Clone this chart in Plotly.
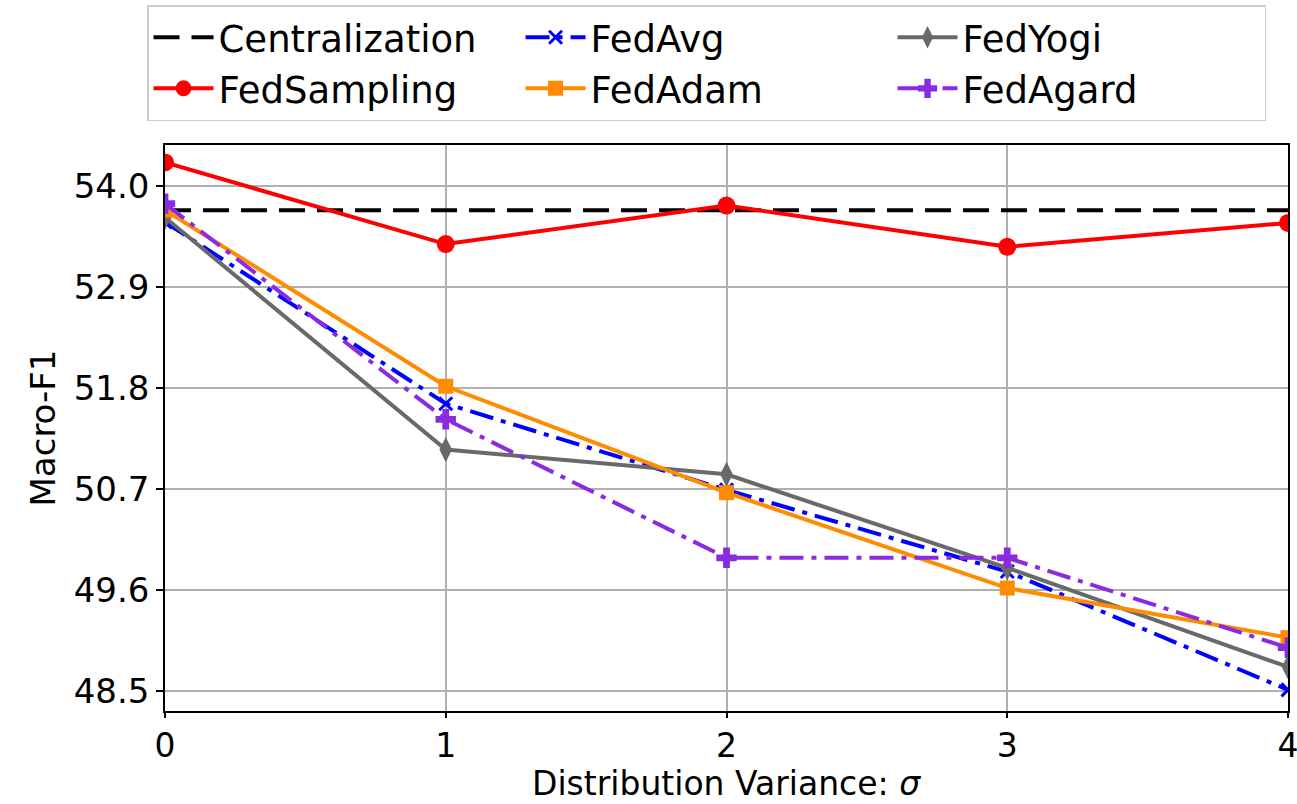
import plotly.graph_objects as go

x_vals = [0, 1, 2, 3, 4]
centralization = [53.74, 53.74, 53.74, 53.74, 53.74]
fedsampling = [54.26, 53.37, 53.79, 53.34, 53.60]
fedavg = [53.61, 51.63, 50.69, 49.80, 48.51]
fedadam = [53.74, 51.82, 50.66, 49.62, 49.08]
fedyogi = [53.66, 51.13, 50.86, 49.84, 48.76]
fedagard = [53.81, 51.46, 49.95, 49.95, 48.97]
y_ticks = [48.5, 49.6, 50.7, 51.8, 52.9, 54.0]
x_ticks = [0, 1, 2, 3, 4]

FONT = "DejaVu Sans"
FS = 34
LW = 4
dashdot = "24px,8px,5px,8px"

fig = go.Figure()
fig.add_trace(go.Scatter(x=x_vals, y=centralization, name="Centralization", mode="lines",
                         line=dict(color="black", width=LW, dash="26px,12px")))
fig.add_trace(go.Scatter(x=x_vals, y=fedavg, name="FedAvg", mode="lines+markers",
                         line=dict(color="blue", width=LW, dash=dashdot),
                         marker=dict(symbol="x-thin", size=13, line=dict(color="blue", width=3))))
fig.add_trace(go.Scatter(x=x_vals, y=fedyogi, name="FedYogi", mode="lines+markers",
                         line=dict(color="dimgray", width=LW),
                         marker=dict(symbol="diamond-tall", size=18, color="dimgray")))
fig.add_trace(go.Scatter(x=x_vals, y=fedsampling, name="FedSampling", mode="lines+markers",
                         line=dict(color="red", width=LW),
                         marker=dict(symbol="circle", size=18, color="red")))
fig.add_trace(go.Scatter(x=x_vals, y=fedadam, name="FedAdam", mode="lines+markers",
                         line=dict(color="darkorange", width=LW),
                         marker=dict(symbol="square", size=15, color="darkorange")))
fig.add_trace(go.Scatter(x=x_vals, y=fedagard, name="FedAgard", mode="lines+markers",
                         line=dict(color="blueviolet", width=LW, dash=dashdot),
                         marker=dict(symbol="cross", size=17, color="blueviolet")))

axis_common = dict(showline=True, linecolor="black", linewidth=1.5, mirror=True,
                   ticks="outside", tickwidth=1.5, tickcolor="black",
                   showgrid=True, gridcolor="#b0b0b0", gridwidth=1.5, zeroline=False,
                   automargin=False, ticklabeloverflow="allow")

fig.update_layout(
    width=1297, height=804,
    paper_bgcolor="white", plot_bgcolor="white",
    margin=dict(l=165, r=9, t=145, b=93, autoexpand=False),
    font=dict(family=FONT, color="black"),
    xaxis=dict(range=[0, 4], tickvals=x_ticks, ticktext=[str(v) for v in x_ticks],
               ticklen=5, tickfont=dict(family=FONT, size=33, color="black"),
               **axis_common),
    yaxis=dict(range=[48.28, 54.45], tickvals=y_ticks, ticktext=[f"{v:.1f}" for v in y_ticks],
               ticklen=7, tickfont=dict(family=FONT, size=FS, color="black"),
               title=dict(text="Macro-F1", font=dict(family=FONT, size=FS), standoff=8),
               **axis_common),
    legend=dict(orientation="h", x=-0.016, xanchor="left", y=1.247, yanchor="top",
                font=dict(family=FONT, size=37), entrywidth=297, entrywidthmode="pixels",
                bordercolor="#cccccc", borderwidth=1.5, bgcolor="white",
                itemwidth=60, tracegroupgap=0),
    showlegend=True,
    annotations=[dict(text="Distribution Variance: <i>σ</i>", xref="paper", yref="paper",
                      x=0.5, y=-0.1643, xanchor="center", yanchor="bottom", showarrow=False,
                      borderpad=0, font=dict(family=FONT, size=33, color="black"))],
)

fig.write_html("out.html", config={"displayModeBar": False},
               post_script="document.body.style.margin='0px';")
